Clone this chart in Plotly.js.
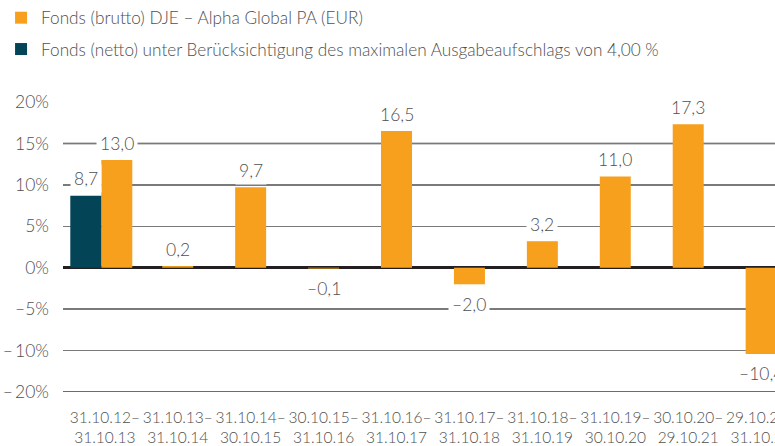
<!DOCTYPE html>
<html>
<head>
<meta charset="utf-8">
<script src="https://cdn.plot.ly/plotly-3.0.1.min.js"></script>
<style>html,body{margin:0;padding:0;background:#fff;}#chart{width:775px;height:446px;}</style>
</head>
<body>
<div id="chart"></div>
<script>
// ---- data ----
const periods = ["31.10.12–<br>31.10.13","31.10.13–<br>31.10.14","31.10.14–<br>30.10.15","30.10.15–<br>31.10.16","31.10.16–<br>31.10.17","31.10.17–<br>31.10.18","31.10.18–<br>31.10.19","31.10.19–<br>30.10.20","30.10.20–<br>29.10.21","29.10.21–<br>31.10.22"];
const grossValues = [13.0, 0.2, 9.7, -0.1, 16.5, -2.0, 3.2, 11.0, 17.3, -10.4];
const netValues = [8.7, null, null, null, null, null, null, null, null, null];
const grossName = "Fonds (brutto) DJE – Alpha Global PA (EUR)";
const netName = "Fonds (netto) unter Berücksichtigung des maximalen Ausgabeaufschlags von 4,00 %";
const yTickVals = [20, 15, 10, 5, 0, -5, -10, -15];
const yTickText = ["20%", "15%", "10%", "5%", "0%", "–5%", "–\u200910%", "–\u200920%"];

// ---- style ----
const ORANGE = "#F7A01E", NAVY = "#034556", TXT = "#4f4f4f";
const FONT = "Lato, 'Open Sans', sans-serif";
const W = 300;
const barW = 0.425;
const xs = periods.map((_, i) => i);
const grossOffset = xs.map(i => (netValues[i] != null ? -0.048 : -barW / 2));
const netOffset = xs.map(() => -0.473);

function fmt(v) {
  const s = Math.abs(v).toFixed(1).replace(".", ",");
  return v < 0 ? "–" + s : s;
}

const traces = [
  {type: "bar", x: xs, y: grossValues, name: grossName, marker: {color: ORANGE},
   width: barW, offset: grossOffset, legendgroup: "a", legendrank: 1, hoverinfo: "skip"},
  {type: "bar", x: xs, y: netValues, name: netName, marker: {color: NAVY},
   width: barW, offset: netOffset, legendgroup: "b", legendrank: 2, hoverinfo: "skip"}
];

const annotations = [];
function addLabels(vals, offs) {
  vals.forEach((v, i) => {
    if (v == null) return;
    const cx = i + offs[i] + barW / 2;
    annotations.push({
      x: cx, y: v, xref: "x", yref: "y", text: fmt(v), showarrow: false,
      yshift: v >= 0 ? 17 : -20, yanchor: "middle", xanchor: "center",
      bgcolor: "#ffffff", borderpad: 3,
      font: {family: FONT, size: 17.5, color: TXT, weight: W}
    });
  });
}
addLabels(grossValues, grossOffset);
addLabels(netValues, netOffset);

const shapes = [15, -15].map(v => ({
  type: "line", xref: "paper", yref: "y", x0: 0, x1: 1, y0: v, y1: v,
  line: {color: "#3a3a3a", width: 1.5}, layer: "below"
}));

const layout = {
  width: 775, height: 446,
  margin: {l: 62.7, r: 0, t: 101.5, b: 54},
  paper_bgcolor: "#fff", plot_bgcolor: "#fff",
  barmode: "overlay",
  showlegend: true,
  legend: {x: -0.087, y: 1, xref: "paper", yref: "container", xanchor: "left", yanchor: "top",
           font: {family: FONT, size: 17.2, color: TXT, weight: W}, traceorder: "grouped", tracegroupgap: 6,
           bgcolor: "rgba(0,0,0,0)"},
  xaxis: {type: "linear", range: [-0.573, 9.19], tickvals: xs, ticktext: periods, tickangle: 0,
          ticklabeloverflow: "allow",
          showgrid: false, zeroline: false, showline: false, ticks: "",
          tickfont: {family: FONT, size: 15.5, color: TXT, weight: W}, ticklabelstandoff: 14, fixedrange: true},
  yaxis: {range: [-15, 20], tickvals: yTickVals, ticktext: yTickText,
          showgrid: true, gridcolor: "#7a7a7a", gridwidth: 1.5,
          zeroline: true, zerolinecolor: "#231f20", zerolinewidth: 3.5,
          showline: false, ticks: "", ticklabelstandoff: 13,
          tickfont: {family: FONT, size: 17.5, color: TXT, weight: W}, fixedrange: true},
  annotations: annotations,
  shapes: shapes
};

Plotly.newPlot("chart", traces, layout, {displayModeBar: false, staticPlot: true});
</script>
</body>
</html>
